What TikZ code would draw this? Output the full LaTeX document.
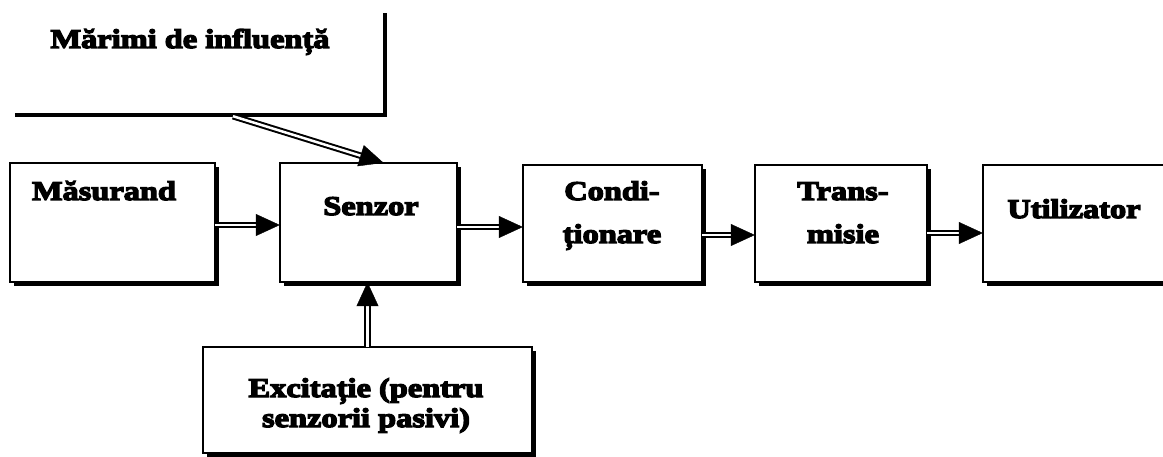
\documentclass[tikz,border=0pt]{standalone}
\usepackage{fontspec}
\setmainfont{Liberation Serif}[FakeStretch=1.2, BoldFeatures={FakeBold=5}]
\usetikzlibrary{arrows.meta}
\begin{document}
\begin{tikzpicture}[x=1pt, y=-1pt,
  blk/.style={inner sep=0pt},
  frame/.style={draw, line width=2.5pt, fill=white},
  shade/.style={fill=black},
  lbl/.style={inner sep=0pt, anchor=base, align=center,
    font=\fontsize{27}{30}\selectfont\bfseries},
  shaft/.style={draw, line width=2pt, double=white, double distance=2.5pt,
    shorten >=22pt},
  tiphead/.style={draw=white, line width=0.4pt,
    -{Triangle[length=24pt, width=22pt, color=black]}}
]
\useasboundingbox (0,0) rectangle (1163,457);
\clip (0,0) rectangle (1163,457);

% blocks of the measuring chain (outlines are drawn below)
\node[blk, minimum width=205, minimum height=119] (mas)   at (112.5,222.5) {};
\node[blk, minimum width=177, minimum height=119] (sen)   at (368.5,222.5) {};
\node[blk, minimum width=179, minimum height=117] (cond)  at (612.5,223.5) {};
\node[blk, minimum width=172, minimum height=117] (trans) at (841,223.5) {};
\node[blk, minimum width=217, minimum height=117] (util)  at (1091.5,223.5) {};
\node[blk, minimum width=329, minimum height=106] (exc)   at (367.5,400) {};

% each block: a black shadow to the lower right, then the white framed box
\foreach \b in {mas, sen, cond, trans, util, exc} {
  \fill[shade] ([shift={(4pt,-4pt)}]\b.south west) rectangle ([shift={(4pt,-4pt)}]\b.north east);
  \draw[frame] (\b.south west) rectangle (\b.north east);
}

% influence box: only its lower and right edges show
\node[blk, minimum width=370, minimum height=102] (mar) at (200,64) {};
\draw[line width=4.5pt] (mar.south west) -- (mar.south east) -- (mar.north east);

% labels (the base of a two-line label is its last line)
\node[lbl] (tmar)  at (190,48)  {Mărimi de influență};
\node[lbl] (tmas)  at (104,200) {Măsurand};
\node[lbl] (tsen)  at (371,215) {Senzor};
\node[lbl] (tcond) at (612,243) {Condi-\\[13pt]ționare};
\node[lbl] (ttr)   at (843,243) {Trans-\\[13pt]misie};
\node[lbl] (tut)   at (1074,218) {Utilizator};
\node[lbl] (texc)  at (366,427) {Excitație (pentru\\senzorii pasivi)};

% connector end points
\coordinate (a1) at ([yshift=-2.5pt]mas.east);
\coordinate (b1) at ([yshift=-2.5pt]sen.west);
\coordinate (a2) at ([yshift=-4.5pt]sen.east);
\coordinate (b2) at ([yshift=-3.5pt]cond.west);
\coordinate (a3) at ([yshift=-11.5pt]cond.east);
\coordinate (b3) at ([yshift=-11.5pt]trans.west);
\coordinate (a4) at ([yshift=-9.5pt]trans.east);
\coordinate (b4) at ([yshift=-9.5pt]util.west);
\coordinate (a5) at ([xshift=33pt, yshift=-1pt]mar.south);
\coordinate (b5) at ([xshift=15pt]sen.north);
\coordinate (a6) at (exc.north);
\coordinate (b6) at (exc.north |- sen.south);

\foreach \s/\e in {a1/b1, a2/b2, a3/b3, a4/b4, a5/b5, a6/b6} {
  \draw[shaft] (\s) -- (\e);
  \draw[tiphead] (\s) -- (\e);
}
\end{tikzpicture}
\end{document}
